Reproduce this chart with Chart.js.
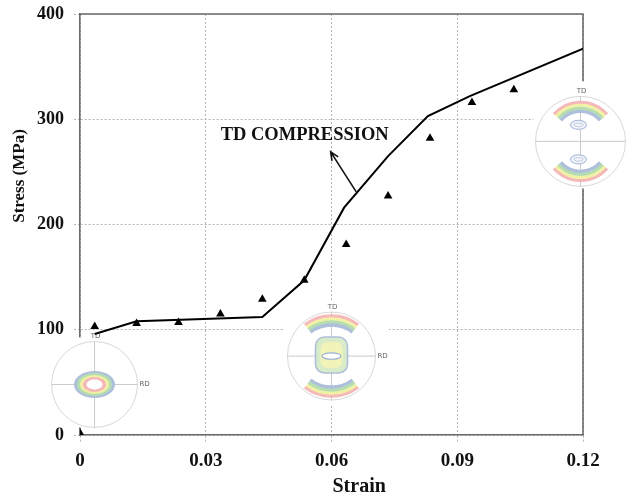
<!DOCTYPE html>
<html>
<head>
<meta charset="utf-8">
<title>Stress - Strain, TD compression</title>
<script src="https://cdn.jsdelivr.net/npm/chart.js@4.4.1/dist/chart.umd.min.js"></script>
<style>
  html, body { margin: 0; padding: 0; background: #fff; }
  canvas { display: block; }
</style>
</head>
<body>
<canvas id="stressChart" width="627" height="500"></canvas>
<script>
// simulated flow curve (solid line)
const modelStrain = [0.0035, 0.0135, 0.0435, 0.0535, 0.063, 0.0735, 0.083, 0.093, 0.12];
const modelStress = [96, 108, 112, 147, 216, 265, 303, 322, 367];

// measured points (triangles)
const testStrain = [0, 0.0035, 0.0135, 0.0235, 0.0335, 0.0435, 0.0535, 0.0635, 0.0735, 0.0835, 0.0935, 0.1035];
const testStress = [2, 103, 106, 107, 115, 129, 147, 181, 227, 282, 316, 328];

const strainTicks = [0, 0.03, 0.06, 0.09, 0.12];
const strainTickLabels = ['0', '0.03', '0.06', '0.09', '0.12'];
const stressTicks = [0, 100, 200, 300, 400];
const stressTickLabels = ['0', '100', '200', '300', '400'];

const SERIF = '"Liberation Serif", "Times New Roman", serif';
const AXIS_GREY = '#6b6b6b';
const GRID_GREY = '#b4b4b4';

// pole figure insets, anchored in data space, box is the white backing in px
const poleFigures = [
  { strain: 0.00346, stress: 48, r: 43, kind: 'ring',  box: { l: -47, t: -47, w: 102, h: 90 } },
  { strain: 0.06,    stress: 75, r: 44, kind: 'mixed', box: { l: -48, t: -56, w: 105, h: 105 } },
  { strain: 0.1194,  stress: 279, r: 45, kind: 'split', box: { l: -47, t: -60, w: 100, h: 107 } }
];

const CONTOUR = ['#f5b8b8', '#f1f1a6', '#b6ddb0', '#aebfdb']; // high -> low

function band(ctx, cx, cy, R, mid, half) {
  CONTOUR.forEach((c, i) => {
    ctx.beginPath();
    ctx.strokeStyle = c;
    ctx.lineWidth = 3.4;
    ctx.arc(cx, cy, R - i * 3, mid - half, mid + half);
    ctx.stroke();
  });
}

function oval(ctx, x, y, rx, ry, fill, stroke) {
  ctx.beginPath();
  ctx.ellipse(x, y, rx, ry, 0, 0, Math.PI * 2);
  if (fill) { ctx.fillStyle = fill; ctx.fill(); }
  if (stroke) { ctx.strokeStyle = stroke; ctx.lineWidth = 1.2; ctx.stroke(); }
}

function drawPoleFigure(ctx, cx, cy, pf) {
  const r = pf.r;
  const deg = Math.PI / 180;
  ctx.save();
  ctx.fillStyle = '#fff';
  ctx.fillRect(cx + pf.box.l, cy + pf.box.t, pf.box.w, pf.box.h);

  // outline and reference axes
  ctx.strokeStyle = '#d8d8d8';
  ctx.lineWidth = 1;
  ctx.beginPath();
  ctx.arc(cx, cy, r, 0, Math.PI * 2);
  ctx.stroke();
  ctx.strokeStyle = '#cacaca';
  ctx.beginPath();
  ctx.moveTo(cx - r, cy); ctx.lineTo(cx + r, cy);
  ctx.moveTo(cx, cy - r); ctx.lineTo(cx, cy + r);
  ctx.stroke();

  if (pf.kind === 'ring') {
    oval(ctx, cx, cy, 20.5, 13.5, CONTOUR[3]);
    oval(ctx, cx, cy, 17.5, 11.5, CONTOUR[2]);
    oval(ctx, cx, cy, 14.5, 9.5, CONTOUR[1]);
    oval(ctx, cx, cy, 11.5, 7.5, CONTOUR[0]);
    oval(ctx, cx, cy, 8, 5, '#fff');
  } else if (pf.kind === 'mixed') {
    band(ctx, cx, cy + 4, 44, -90 * deg, 37 * deg);
    band(ctx, cx, cy - 4, 44, 90 * deg, 37 * deg);
    ctx.beginPath();
    ctx.roundRect(cx - 16, cy - 19, 32, 36, 9);
    ctx.fillStyle = '#d8ecc9';
    ctx.fill();
    ctx.strokeStyle = CONTOUR[3];
    ctx.lineWidth = 1.6;
    ctx.stroke();
    ctx.beginPath();
    ctx.roundRect(cx - 11, cy - 14, 22, 26, 7);
    ctx.fillStyle = '#f1f3b8';
    ctx.fill();
    oval(ctx, cx, cy, 9.5, 3.2, '#fff', '#98aed2');
  } else {
    band(ctx, cx, cy - 4, 35, -90 * deg, 49 * deg);
    band(ctx, cx, cy + 4, 35, 90 * deg, 49 * deg);
    oval(ctx, cx - 2, cy - 16.5, 8, 4.5, '#f4f6fb', CONTOUR[3]);
    oval(ctx, cx - 2, cy - 16.5, 4.5, 1.8, null, '#c8d3e6');
    oval(ctx, cx - 2, cy + 18, 8, 4.5, '#f4f6fb', CONTOUR[3]);
    oval(ctx, cx - 2, cy + 18, 4.5, 1.8, null, '#c8d3e6');
  }

  ctx.fillStyle = '#666';
  ctx.font = '7px "DejaVu Sans", sans-serif';
  ctx.textAlign = 'center';
  ctx.textBaseline = 'middle';
  ctx.fillText('TD', cx + 1, cy - r - 5);
  ctx.textAlign = 'left';
  ctx.fillText('RD', cx + r + 2, cy);
  ctx.restore();
}

// top/right frame plus the pole figure insets, under the data
const insetPlugin = {
  id: 'insets',
  beforeDatasetsDraw(chart) {
    const { ctx, chartArea: a } = chart;
    const xs = chart.scales.x, ys = chart.scales.y;
    ctx.save();
    ctx.strokeStyle = AXIS_GREY;
    ctx.lineWidth = 1.6;
    ctx.beginPath();
    ctx.moveTo(a.left, a.top);
    ctx.lineTo(a.right, a.top);
    ctx.lineTo(a.right, a.bottom);
    ctx.stroke();
    ctx.restore();
    poleFigures.forEach(pf => {
      drawPoleFigure(ctx, xs.getPixelForValue(pf.strain), ys.getPixelForValue(pf.stress), pf);
    });
  }
};

// "TD COMPRESSION" call-out and the axis titles
const labelPlugin = {
  id: 'labels',
  afterDatasetsDraw(chart) {
    const { ctx } = chart;
    const xs = chart.scales.x, ys = chart.scales.y;
    ctx.save();
    ctx.fillStyle = '#111';
    ctx.font = 'bold 18.5px ' + SERIF;
    ctx.textAlign = 'center';
    ctx.textBaseline = 'middle';
    ctx.fillText('TD COMPRESSION', xs.getPixelForValue(0.0536), ys.getPixelForValue(285));

    const x0 = xs.getPixelForValue(0.0659), y0 = ys.getPixelForValue(231);
    const x1 = xs.getPixelForValue(0.0598), y1 = ys.getPixelForValue(269);
    const ang = Math.atan2(y1 - y0, x1 - x0);
    ctx.strokeStyle = '#111';
    ctx.lineWidth = 1.6;
    ctx.beginPath();
    ctx.moveTo(x0, y0);
    ctx.lineTo(x1, y1);
    ctx.moveTo(x1 - 9 * Math.cos(ang - 0.42), y1 - 9 * Math.sin(ang - 0.42));
    ctx.lineTo(x1, y1);
    ctx.lineTo(x1 - 9 * Math.cos(ang + 0.42), y1 - 9 * Math.sin(ang + 0.42));
    ctx.stroke();
    ctx.restore();
  },
  afterDraw(chart) {
    const { ctx, chartArea: a } = chart;
    ctx.save();
    ctx.fillStyle = '#111';
    ctx.textAlign = 'center';
    ctx.textBaseline = 'middle';
    ctx.font = 'bold 20px ' + SERIF;
    ctx.fillText('Strain', a.left + (a.right - a.left) * 0.555, 487);
    ctx.translate(20, 176);
    ctx.rotate(-Math.PI / 2);
    ctx.font = 'bold 17px ' + SERIF;
    ctx.fillText('Stress (MPa)', 0, 0);
    ctx.restore();
  }
};

const ctx = document.getElementById('stressChart');

new Chart(ctx, {
  type: 'scatter',
  data: {
    datasets: [
      {
        label: 'Simulation',
        data: modelStrain.map((s, i) => ({ x: s, y: modelStress[i] })),
        showLine: true,
        borderColor: '#000',
        borderWidth: 2,
        pointRadius: 0,
        tension: 0,
        fill: false
      },
      {
        label: 'Experiment',
        data: testStrain.map((s, i) => ({ x: s, y: testStress[i] })),
        showLine: false,
        pointStyle: 'triangle',
        pointRadius: 5,
        backgroundColor: '#000',
        borderColor: '#000',
        borderWidth: 0
      }
    ]
  },
  options: {
    responsive: false,
    devicePixelRatio: 1,
    animation: false,
    layout: { padding: { left: 0, right: 44, top: 14, bottom: 0 } },
    plugins: {
      legend: { display: false },
      tooltip: { enabled: false }
    },
    scales: {
      x: {
        type: 'linear',
        min: 0,
        max: 0.12,
        afterBuildTicks: scale => { scale.ticks = strainTicks.map(v => ({ value: v })); },
        afterFit: scale => {
          scale.height = 65;
          scale.paddingLeft = 0;
          scale.paddingRight = 0;
        },
        ticks: {
          callback: (v, i) => strainTickLabels[i],
          color: '#111',
          padding: 8,
          maxRotation: 0,
          font: { family: SERIF, size: 19, weight: 'bold' }
        },
        grid: { color: GRID_GREY, lineWidth: 1, tickLength: 7, tickBorderDash: [2, 2] },
        border: { color: AXIS_GREY, width: 1.6, dash: [2, 2] }
      },
      y: {
        type: 'linear',
        min: 0,
        max: 400,
        afterBuildTicks: scale => { scale.ticks = stressTicks.map(v => ({ value: v })); },
        afterFit: scale => {
          scale.width = 80;
          scale.paddingTop = 0;
          scale.paddingBottom = 0;
        },
        ticks: {
          callback: (v, i) => stressTickLabels[i],
          color: '#111',
          padding: 10,
          font: { family: SERIF, size: 18, weight: 'bold' }
        },
        grid: { color: GRID_GREY, lineWidth: 1, tickLength: 6, tickBorderDash: [2, 2] },
        border: { color: AXIS_GREY, width: 1.6, dash: [2, 2] }
      }
    }
  },
  plugins: [insetPlugin, labelPlugin]
});
</script>
</body>
</html>
